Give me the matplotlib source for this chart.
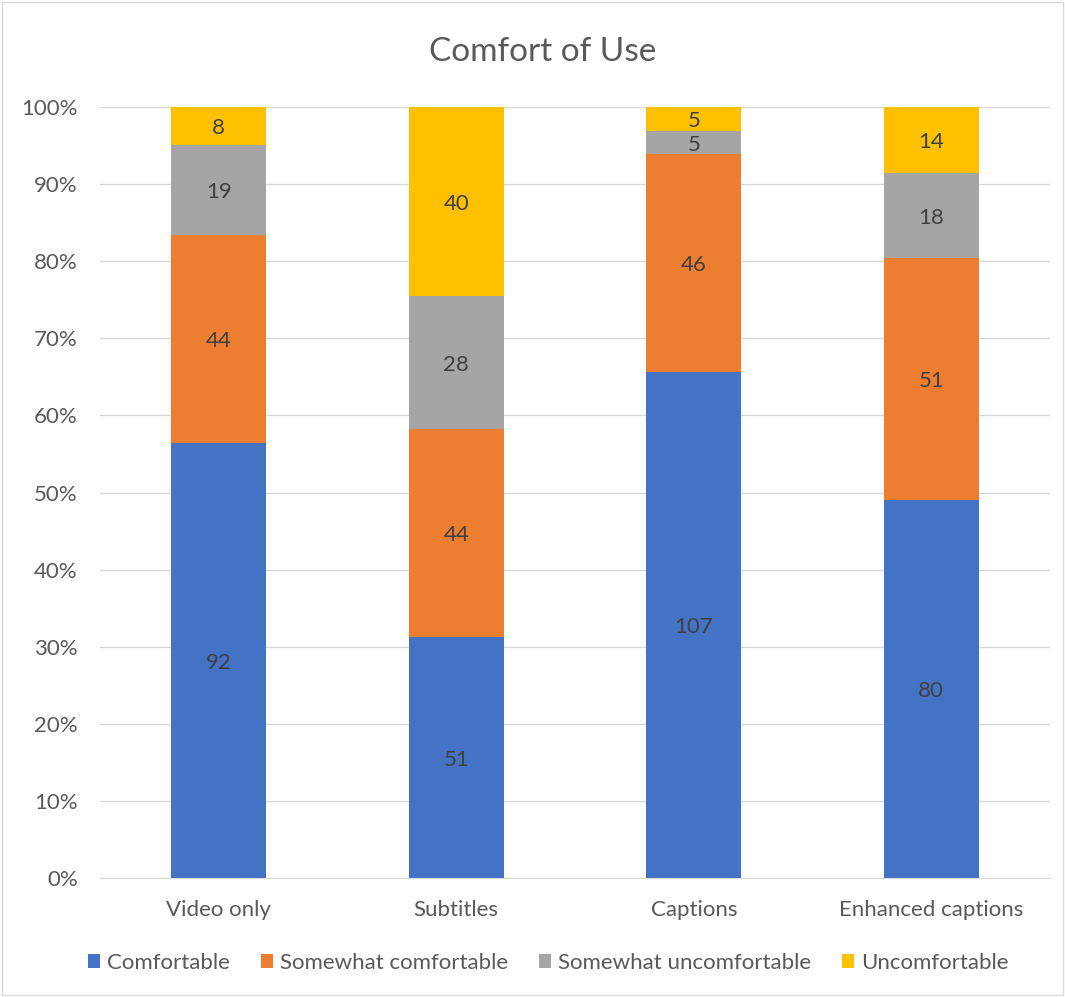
import matplotlib
matplotlib.use("Agg")
import matplotlib.pyplot as plt
from matplotlib.patches import Rectangle
import numpy as np

categories = ["Video only", "Subtitles", "Captions", "Enhanced captions"]
series_names = ["Comfortable", "Somewhat comfortable", "Somewhat uncomfortable", "Uncomfortable"]
comfortable = [92, 51, 107, 80]
somewhat_comfortable = [44, 44, 46, 51]
somewhat_uncomfortable = [19, 28, 5, 18]
uncomfortable = [8, 40, 5, 14]
colors = ["#4472C4", "#ED7D31", "#A5A5A5", "#FFC000"]

plt.rcParams['font.family'] = ['Lato', 'DejaVu Sans']
text_color = "#595959"

fig = plt.figure(figsize=(10.65, 9.97), dpi=100)
ax = fig.add_axes([100/1065, 119/997, 950/1065, 771/997])

data = np.array([comfortable, somewhat_comfortable, somewhat_uncomfortable, uncomfortable], dtype=float)
totals = data.sum(axis=0)
pct = data / totals * 100
x = np.arange(len(categories))
bottom = np.zeros(len(categories))
for i, name in enumerate(series_names):
    ax.bar(x, pct[i], 0.4, bottom=bottom, color=colors[i], label=name, zorder=3)
    for j in range(len(categories)):
        ax.text(x[j], bottom[j] + pct[i][j] / 2 - 0.3, f"{int(data[i][j])}", ha="center", va="center",
                fontsize=16, color="#404040", zorder=4)
    bottom += pct[i]

ax.set_xlim(-0.5, 3.5)
ax.set_ylim(0, 100)
ax.set_yticks(np.arange(0, 101, 10))
ax.set_yticklabels([f"{v}%" for v in range(0, 101, 10)])
ax.set_xticks(x)
ax.set_xticklabels(categories)
ax.tick_params(axis="both", length=0, labelsize=16, colors=text_color)
ax.tick_params(axis="y", pad=16)
ax.tick_params(axis="x", pad=16)
ax.grid(axis="y", color="#D9D9D9", linewidth=1, zorder=0)
for s in ["top", "right", "left"]:
    ax.spines[s].set_visible(False)
ax.spines["bottom"].set_color("#D9D9D9")
ax.spines["bottom"].set_zorder(5)

fig.text(543/1065, 1 - 52/997, "Comfort of Use", ha="center", va="center", fontsize=24, color=text_color)

fig.legend(loc="center", bbox_to_anchor=(548/1065, 1 - 963/997), ncol=4, frameon=False,
           fontsize=16, labelcolor=text_color, handlelength=0.55, handleheight=0.55,
           handletextpad=0.3, columnspacing=1.4)

fig.patches.append(Rectangle((0.002, 0.002), 0.996, 0.996, transform=fig.transFigure,
                             fill=False, edgecolor="#D9D9D9", linewidth=1))

fig.savefig("out.png", dpi=100)
